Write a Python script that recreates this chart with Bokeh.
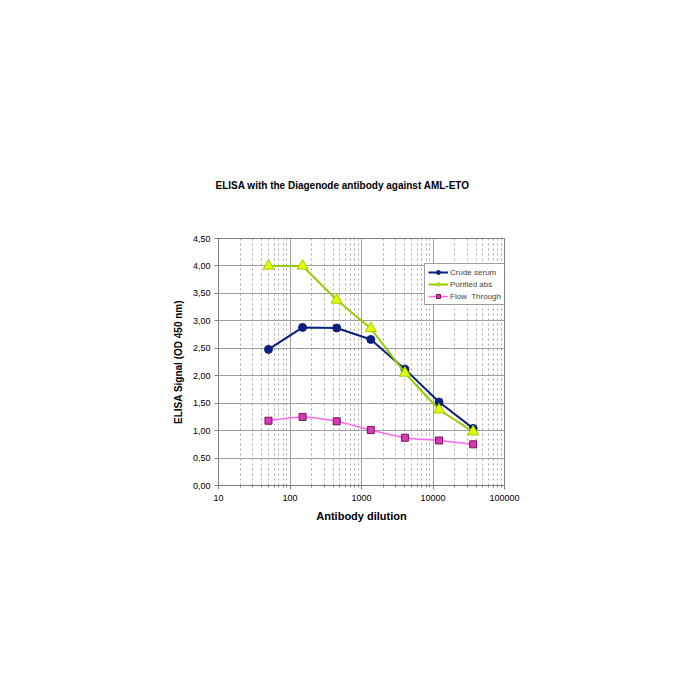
import numpy as np
from bokeh.plotting import figure
from bokeh.models import (FixedTicker, CustomJSTickFormatter, Legend, LegendItem, Range1d)
from bokeh.embed import file_html
from bokeh.resources import INLINE

# ---- data ----
dilution = [50, 150, 450, 1350, 4050, 12150, 36450]
crude_serum = [2.48, 2.88, 2.87, 2.66, 2.12, 1.52, 1.04]
purified_abs = [4.00, 4.00, 3.38, 2.86, 2.05, 1.38, 0.98]
flow_through = [1.18, 1.25, 1.17, 1.01, 0.87, 0.82, 0.75]
x_major_ticks = [10, 100, 1000, 10000, 100000]
y_ticks = [0, 0.5, 1.0, 1.5, 2.0, 2.5, 3.0, 3.5, 4.0, 4.5]
title_text = "ELISA with the Diagenode antibody against AML-ETO"

FONT = "Liberation Sans"

p = figure(width=700, height=700, x_axis_type="log",
           x_range=Range1d(10, 100000), y_range=Range1d(0, 4.5),
           output_backend="svg", toolbar_location=None,
           min_border_left=218, min_border_right=196,
           min_border_top=238, min_border_bottom=215,
           background_fill_color="white", border_fill_color="white")

p.title.text = title_text
p.title.align = "left"
p.title.offset = -3
p.title.text_font = FONT
p.title.text_font_size = "10px"
p.title.text_font_style = "bold"
p.title.text_color = "black"
p.title.standoff = 96

p.outline_line_color = "#808080"
p.outline_line_width = 1

minor = [m * d for d in [10, 100, 1000, 10000] for m in range(2, 10)]
p.xaxis.ticker = FixedTicker(ticks=x_major_ticks, minor_ticks=minor)
p.xaxis.formatter = CustomJSTickFormatter(code="return tick.toFixed(0);")
p.yaxis.ticker = FixedTicker(ticks=y_ticks)
p.yaxis.formatter = CustomJSTickFormatter(code="return tick.toFixed(2).replace('.', ',');")

for ax in (p.xaxis, p.yaxis):
    ax.major_label_text_font = FONT
    ax.major_label_text_font_size = "9px"
    ax.major_label_text_color = "black"
    ax.axis_label_text_font = FONT
    ax.axis_label_text_font_style = "bold"
    ax.axis_label_text_color = "black"
    ax.axis_line_color = "#808080"
    ax.major_tick_line_color = "#808080"
    ax.minor_tick_line_color = "#808080"
    ax.major_tick_in = 0
    ax.major_tick_out = 4
    ax.minor_tick_in = 0
    ax.minor_tick_out = 2

p.xaxis.axis_label = "Antibody dilution"
p.xaxis.axis_label_text_font_size = "11px"
p.xaxis.major_label_standoff = 5
p.xaxis.axis_label_standoff = 6
p.yaxis.axis_label = "ELISA Signal (OD 450 nm)"
p.yaxis.axis_label_text_font_size = "10px"
p.yaxis.major_label_standoff = 4
p.yaxis.axis_label_standoff = 6
p.yaxis.minor_tick_out = 0

p.xgrid.grid_line_color = "#a0a0a0"
p.xgrid.minor_grid_line_color = "#a8a8a8"
p.xgrid.minor_grid_line_dash = "2 3"
p.ygrid.grid_line_color = "#a0a0a0"

# Crude serum
l1 = p.line(dilution, crude_serum, line_color="#0b1f7d", line_width=2)
s1 = p.scatter(dilution, crude_serum, marker="circle", size=8,
               fill_color="#0b1f7d", line_color="#0b1f7d")

# Purified abs
l2 = p.line(dilution, purified_abs, line_color="#99cc00", line_width=2)
s2 = p.scatter(dilution, purified_abs, marker="triangle", size=11,
               fill_color="#e6ff00", line_color="#99cc00")

# Flow through: smoothed curve (Catmull-Rom -> cubic bezier, in log-x space)
lx = np.log10(np.array(dilution, dtype=float))
fy = np.array(flow_through, dtype=float)
n = len(lx)
x0, y0, x1, y1, cx0, cy0, cx1, cy1 = [], [], [], [], [], [], [], []
for i in range(n - 1):
    im1 = max(i - 1, 0)
    ip2 = min(i + 2, n - 1)
    x0.append(10 ** lx[i]); y0.append(fy[i])
    x1.append(10 ** lx[i + 1]); y1.append(fy[i + 1])
    cx0.append(10 ** (lx[i] + (lx[i + 1] - lx[im1]) / 6)); cy0.append(fy[i] + (fy[i + 1] - fy[im1]) / 6)
    cx1.append(10 ** (lx[i + 1] - (lx[ip2] - lx[i]) / 6)); cy1.append(fy[i + 1] - (fy[ip2] - fy[i]) / 6)
l3 = p.bezier(x0=x0, y0=y0, x1=x1, y1=y1, cx0=cx0, cy0=cy0, cx1=cx1, cy1=cy1,
              line_color="#ff66ee", line_width=1.5)
s3 = p.scatter(dilution, flow_through, marker="square", size=7,
               fill_color="#d63ab0", line_color="#7a1060")

legend = Legend(items=[
    LegendItem(label="Crude serum", renderers=[l1, s1]),
    LegendItem(label="Purified abs", renderers=[l2, s2]),
    LegendItem(label="Flow  Through", renderers=[l3, s3]),
], location=(206, 180))
legend.label_text_font = FONT
legend.label_text_font_size = "8px"
legend.label_height = 10
legend.glyph_height = 10
legend.glyph_width = 20
legend.spacing = 2
legend.padding = 3
legend.margin = 0
legend.label_standoff = 2
legend.border_line_color = "#404040"
legend.border_line_width = 1
legend.background_fill_alpha = 1
p.add_layout(legend)

open("out.html", "w").write(file_html(p, INLINE))
